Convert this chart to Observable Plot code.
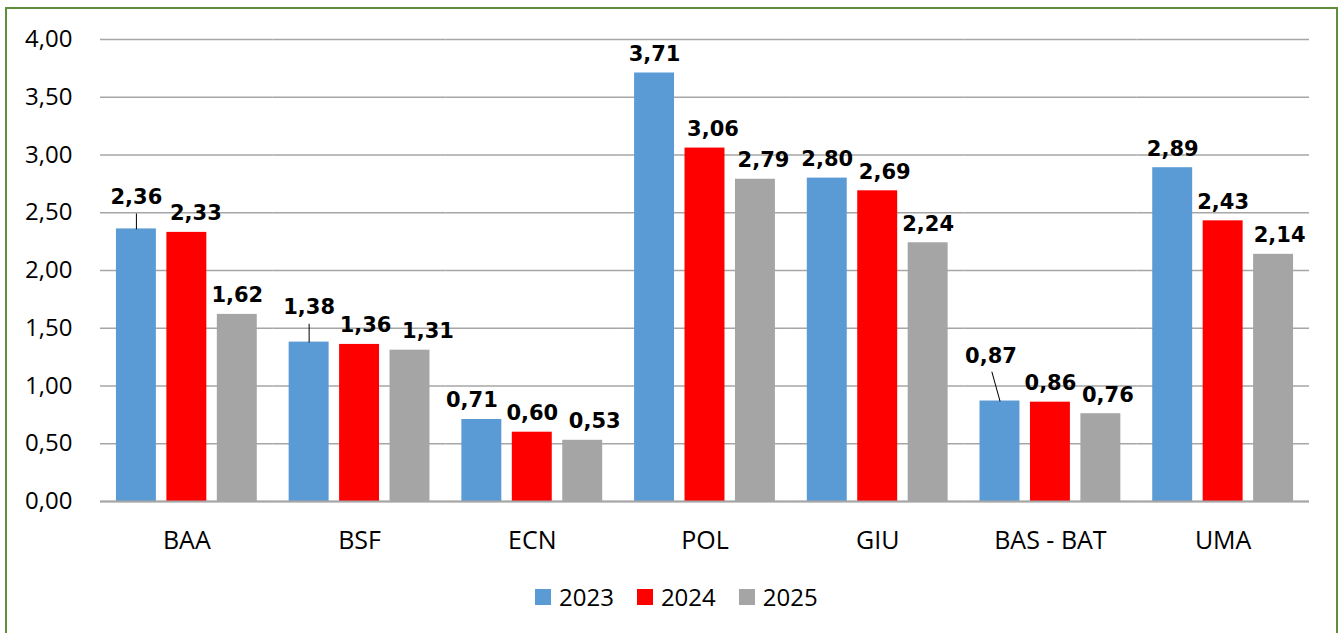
<!DOCTYPE html>
<html>
<head>
<meta charset="utf-8">
<script src="https://cdn.jsdelivr.net/npm/d3@7"></script>
<script src="https://cdn.jsdelivr.net/npm/@observablehq/plot@0.6"></script>
<style>
  html, body { margin: 0; padding: 0; background: #fff; }
  body { width: 1340px; height: 633px; overflow: hidden; position: relative; font-family: "Open Sans", sans-serif; }
  #chart { position: absolute; left: 0; top: 0; }
  #frame { position: absolute; left: 5px; top: 7px; width: 1333px; height: 660px; border: 2px solid #5f8f3a; box-sizing: border-box; pointer-events: none; }
  #legend { position: absolute; left: 535px; top: 580px; display: flex; align-items: center; gap: 23px; font-size: 24px; color: #000; font-family: "Open Sans", sans-serif; }
  #legend .item { display: flex; align-items: center; }
  #legend .sw { width: 16px; height: 16px; margin-right: 8px; }
</style>
</head>
<body>
<div id="chart"></div>
<div id="legend"></div>
<div id="frame"></div>
<script>
// ---- data ----
const categories = ["BAA", "BSF", "ECN", "POL", "GIU", "BAS - BAT", "UMA"];
const years = ["2023", "2024", "2025"];
const values2023 = [2.36, 1.38, 0.71, 3.71, 2.80, 0.87, 2.89];
const values2024 = [2.33, 1.36, 0.60, 3.06, 2.69, 0.86, 2.43];
const values2025 = [1.62, 1.31, 0.53, 2.79, 2.24, 0.76, 2.14];
const yTicks = [0, 0.5, 1, 1.5, 2, 2.5, 3, 3.5, 4];
const colors = ["#5b9bd5", "#ff0000", "#a5a5a5"];

// label layout options (not data): labels moved in the original, some with a leader line
const leaders = [
  {cat: "BAA", year: "2023", lift: 13, dx: 0, len: 15, rotate: 0},
  {cat: "BSF", year: "2023", lift: 16, dx: 0, len: 18, rotate: 0},
  {cat: "BAS - BAT", year: "2023", lift: 26, dx: -9, len: 30, rotate: -15.5}
];
const nudges = [
  {cat: "BAA", year: "2024", dx: 9},
  {cat: "BSF", year: "2024", dx: 6},
  {cat: "BSF", year: "2025", dx: 18},
  {cat: "ECN", year: "2023", dx: -10},
  {cat: "ECN", year: "2025", dx: 12},
  {cat: "POL", year: "2024", dx: 8},
  {cat: "POL", year: "2025", dx: 8},
  {cat: "GIU", year: "2024", dx: 7},
  {cat: "BAS - BAT", year: "2025", dx: 7},
  {cat: "UMA", year: "2025", dx: 6}
];

const series = [values2023, values2024, values2025];
const data = [];
categories.forEach((c, i) => years.forEach((y, j) => data.push({cat: c, year: y, value: series[j][i]})));

const fmt = v => v.toFixed(2).replace(".", ",");
const same = (a, b) => a.cat === b.cat && a.year === b.year;
const isSpecial = d => leaders.some(l => same(l, d)) || nudges.some(n => same(n, d));
const lineShape = {draw(context, l) { context.moveTo(0, 0); context.lineTo(0, -l); }};

const labelFont = {fontFamily: "DejaVu Sans", fontWeight: "bold", fontSize: 21, fill: "#000"};
const labelText = d => fmt(d.value);

const leaderMarks = leaders.flatMap(l => {
  const d = data.filter(e => same(e, l));
  return [
    Plot.vector(d, {fx: "cat", x: "year", y: "value", length: l.len, rotate: l.rotate, anchor: "start",
      shape: lineShape, stroke: "#000", strokeWidth: 1}),
    Plot.text(d, {fx: "cat", x: "year", y: "value", text: labelText, dy: -(12 + l.lift), dx: l.dx,
      lineAnchor: "bottom", ...labelFont})
  ];
});
const nudgeMarks = nudges.map(n =>
  Plot.text(data.filter(e => same(e, n)), {fx: "cat", x: "year", y: "value", text: labelText, dy: -12, dx: n.dx,
    lineAnchor: "bottom", ...labelFont})
);

const chart = Plot.plot({
  width: 1340,
  height: 560,
  marginTop: 39,
  marginBottom: 59,
  marginLeft: 100,
  marginRight: 31,
  style: {fontFamily: "Open Sans", background: "transparent", overflow: "visible"},
  fx: {domain: categories, paddingInner: 0, paddingOuter: 0, round: false, label: null},
  x: {domain: years, paddingInner: 0.208, paddingOuter: 0.316, round: false, axis: null},
  y: {domain: [0, 4], label: null},
  color: {domain: years, range: colors},
  marks: [
    Plot.gridY(yTicks, {stroke: "#a6a6a6", strokeOpacity: 1, strokeWidth: 1.3}),
    Plot.axisY(yTicks, {tickSize: 0, tickPadding: 28, fontSize: 24, tickFormat: fmt, label: null, fill: "#000"}),
    Plot.axisFx({anchor: "bottom", tickSize: 0, tickPadding: 30, fontSize: 25, label: null, fill: "#000"}),
    Plot.barY(data, {fx: "cat", x: "year", y: "value", fill: "year"}),
    Plot.ruleY([0], {stroke: "#a6a6a6", strokeWidth: 2}),
    Plot.text(data.filter(d => !isSpecial(d)), {fx: "cat", x: "year", y: "value", text: labelText,
      dy: -12, lineAnchor: "bottom", ...labelFont}),
    ...nudgeMarks,
    ...leaderMarks
  ]
});
document.getElementById("chart").appendChild(chart);

// legend
const legend = document.getElementById("legend");
years.forEach((y, i) => {
  const item = document.createElement("div");
  item.className = "item";
  const sw = document.createElement("span");
  sw.className = "sw";
  sw.style.background = colors[i];
  const t = document.createElement("span");
  t.textContent = y;
  item.appendChild(sw);
  item.appendChild(t);
  legend.appendChild(item);
});
</script>
</body>
</html>
